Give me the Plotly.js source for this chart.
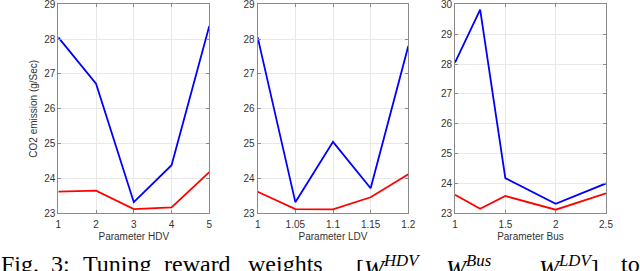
<!DOCTYPE html>
<html>
<head>
<meta charset="utf-8">
<script src="https://cdn.plot.ly/plotly-3.0.1.min.js"></script>
<style>html,body{margin:0;padding:0;background:#fff;}#chart{width:640px;height:271px;}</style>
</head>
<body>
<div id="chart"></div>
<script>
// Panel 1: HDV
const hdvX = [1, 2, 3, 4, 5];
const hdvBlue = [28.05, 26.72, 23.32, 24.38, 28.38];
const hdvRed = [23.62, 23.65, 23.12, 23.17, 24.18];
// Panel 2: LDV
const ldvX = [1, 1.05, 1.1, 1.15, 1.2];
const ldvBlue = [28.05, 23.32, 25.05, 23.72, 27.8];
const ldvRed = [23.62, 23.12, 23.11, 23.46, 24.12];
const ldvTicks = ["1", "1.05", "1.1", "1.15", "1.2"];
// Panel 3: Bus
const busX = [1, 1.25, 1.5, 2, 2.5];
const busBlue = [28.05, 29.82, 24.18, 23.32, 24.0];
const busRed = [23.62, 23.15, 23.58, 23.12, 23.67];
const busTickVals = [1, 1.5, 2, 2.5];
const busTicks = ["1", "1.5", "2", "2.5"];
// y ticks
const yTicks12 = [23, 24, 25, 26, 27, 28, 29];
const yTicks3 = [23, 24, 25, 26, 27, 28, 29, 30];

const xTitles = ["Parameter HDV", "Parameter LDV", "Parameter Bus"];
const yTitle = "CO2 emission (g/Sec)";
const capWords = ["Fig.", "3:", "Tuning", "reward", "weights"];
const capMath = ["[<i>W</i><sup><i>HDV</i></sup>,", "<i>W</i><sup><i>Bus</i></sup>,", "<i>W</i><sup><i>LDV</i></sup>]"];
const capEnd = "to";

const blue = '#0000ff', red = '#ff0000';
function tr(x, y, c, ax) {
  return {x: x, y: y, type: 'scatter', mode: 'lines', line: {color: c, width: 1.8},
          xaxis: 'x' + ax, yaxis: 'y' + ax, showlegend: false, hoverinfo: 'skip'};
}
const data = [
  tr(hdvX, hdvBlue, blue, ''), tr(hdvX, hdvRed, red, ''),
  tr(ldvX, ldvBlue, blue, '2'), tr(ldvX, ldvRed, red, '2'),
  tr(busX, busBlue, blue, '3'), tr(busX, busRed, red, '3')
];

const W = 640, H = 271;
const yDom = [1 - 213.3 / H, 1 - 4.3 / H];
const font = {family: 'Liberation Sans, Arial, sans-serif', size: 10, color: '#333'};
function xax(l, r, range, title, anchor, vals, text) {
  return {
    domain: [l / W, r / W], range: range, anchor: anchor,
    tickmode: 'array', tickvals: vals, ticktext: text, ticklabeloverflow: 'allow',
    showline: true, linecolor: '#8a8a8a', linewidth: 1, mirror: 'ticks',
    ticks: 'inside', ticklen: 3, tickcolor: '#8a8a8a', ticklabelstandoff: 2,
    showgrid: true, gridcolor: '#e8e8e8', gridwidth: 1, zeroline: false,
    tickfont: font, title: {text: title, font: font, standoff: 3}
  };
}
function yax(range, anchor, vals, title) {
  return {
    domain: yDom, range: range, anchor: anchor,
    tickmode: 'array', tickvals: vals, ticktext: vals.map(String), ticklabeloverflow: 'allow',
    showline: true, linecolor: '#8a8a8a', linewidth: 1, mirror: 'ticks',
    ticks: 'inside', ticklen: 3, tickcolor: '#8a8a8a',
    showgrid: true, gridcolor: '#e8e8e8', gridwidth: 1, zeroline: false,
    tickfont: font, title: {text: title || '', font: font, standoff: 4}
  };
}
const capFont = {family: 'Liberation Serif, Times New Roman, serif', size: 24, color: '#000'};
function cap(text, x, anchor) {
  return {text: text, xref: 'paper', yref: 'paper', x: x / W, y: 1 - 249 / H,
          xanchor: anchor, yanchor: 'top', showarrow: false, font: capFont};
}
const capX = [-1, 49, 81, 162, 246];
const mathX = [354, 444, 537];
const layout = {
  width: W, height: H, margin: {l: 0, r: 0, t: 0, b: 0},
  paper_bgcolor: '#fff', plot_bgcolor: '#fff',
  xaxis: xax(58.3, 209.3, [1, 5], xTitles[0], 'y', hdvX, hdvX.map(String)),
  yaxis: yax([23, 29], 'x', yTicks12, yTitle),
  xaxis2: xax(257.7, 408.3, [1, 1.2], xTitles[1], 'y2', ldvX, ldvTicks),
  yaxis2: yax([23, 29], 'x2', yTicks12),
  xaxis3: xax(455, 606, [1, 2.5], xTitles[2], 'y3', busTickVals, busTicks),
  yaxis3: yax([23, 30], 'x3', yTicks3),
  annotations: capWords.map((w, i) => cap(w, capX[i], 'left'))
    .concat(capMath.map((m, i) => cap(m, mathX[i], 'left')))
    .concat([cap(capEnd, 642, 'right')])
};
Plotly.newPlot('chart', data, layout, {staticPlot: true, displayModeBar: false});
</script>
</body>
</html>
